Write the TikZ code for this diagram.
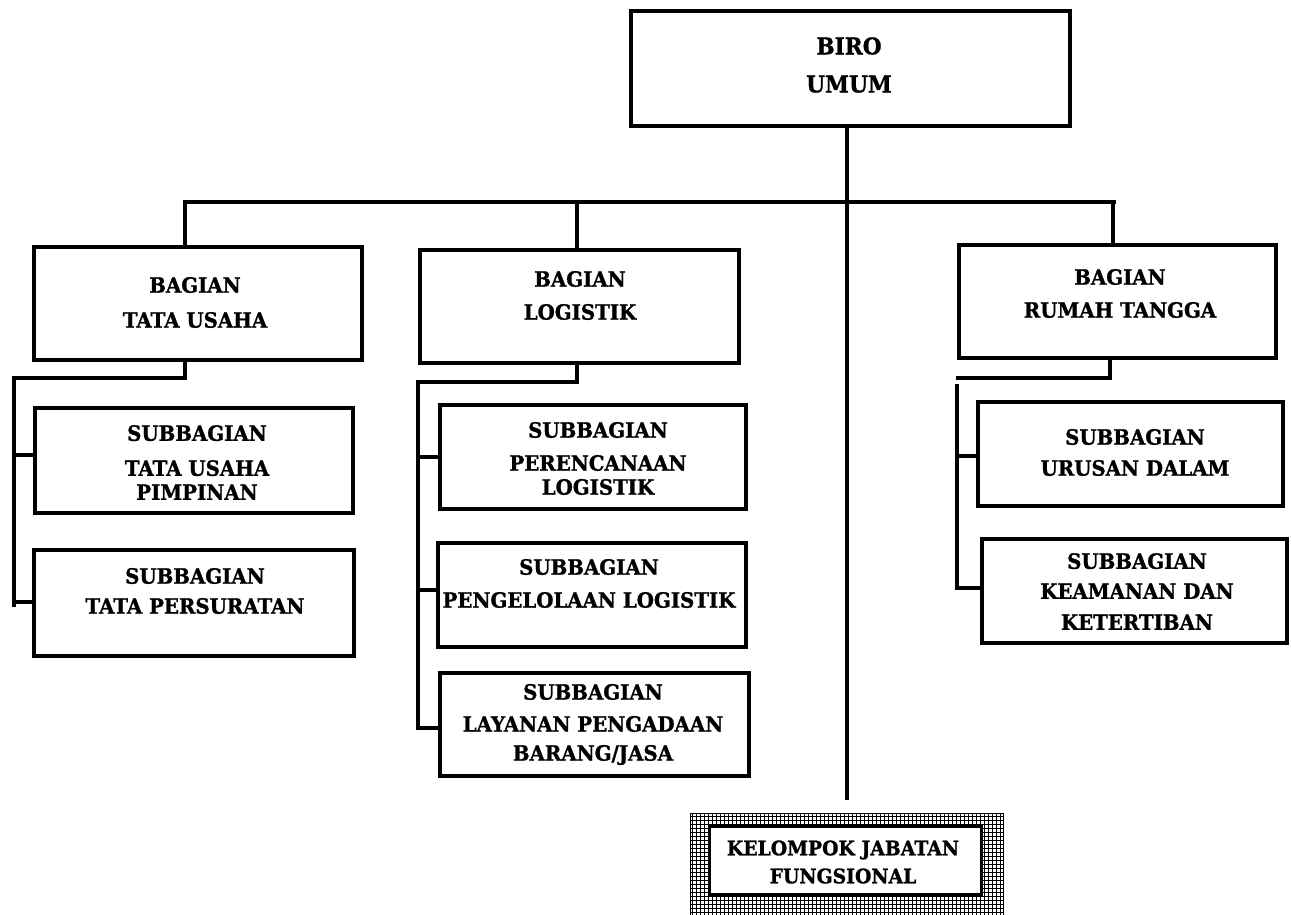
\documentclass[tikz,border=0pt]{standalone}
\usepackage{fontspec}
\setmainfont{DejaVu Serif}
\newfontfamily\orgfont{DejaVu Serif Bold}[FakeBold=1.2,FakeStretch=0.94]
\begin{document}
\begin{tikzpicture}[x=1pt,y=-1pt,
  box/.style={draw, line width=4.3pt, inner sep=0pt},
  wire/.style={line width=3.8pt},
  txt/.style={align=center, inner sep=0pt, font=\fontsize{21}{21}\orgfont},
  bigtxt/.style={align=center, inner sep=0pt, font=\fontsize{23}{23}\orgfont}]
\useasboundingbox[fill=white] (0,0) rectangle (1291,914);

% ---- boxes ----
\node[box, minimum width=439pt, minimum height=115pt] (biro) at (850.5,68.5) {};
\node[box, minimum width=328pt, minimum height=113pt] (tu)   at (198,303.5) {};
\node[box, minimum width=319pt, minimum height=113pt] (log)  at (579.5,306.5) {};
\node[box, minimum width=317pt, minimum height=113pt] (rt)   at (1117.5,301.5) {};
\node[box, minimum width=318pt, minimum height=105pt] (tup)  at (194,460.5) {};
\node[box, minimum width=320pt, minimum height=106pt] (tp)   at (194,603) {};
\node[box, minimum width=306pt, minimum height=104pt] (per)  at (593,457) {};
\node[box, minimum width=308pt, minimum height=104pt] (pen)  at (592,595) {};
\node[box, minimum width=309pt, minimum height=103pt] (lay)  at (594.5,724.5) {};
\node[box, minimum width=305pt, minimum height=104pt] (ud)   at (1130.5,454) {};
\node[box, minimum width=305pt, minimum height=104pt] (kk)   at (1134.5,591) {};

% ---- functional group: cross-hatched frame around a white box ----
\begin{scope}
  \clip (690,916) rectangle (1003,813);
  \draw[line width=0.7pt, step=4pt] (690,917) grid (1004,813);
\end{scope}
\draw[line width=1pt] (690,813) rectangle (1003,916);
\node[box, fill=white, line width=3pt, minimum width=272pt, minimum height=68pt] (kjf) at (845,860) {};

% ---- labels ----
\node[bigtxt] (biroT) at (849,65) {BIRO\\[15pt]UMUM};
\node[txt] (tuT)  at (195,302.5) {BAGIAN\\[14pt]TATA USAHA};
\node[txt] (logT) at (580,295.5) {BAGIAN\\[12pt]LOGISTIK};
\node[txt] (rtT)  at (1120,293.5) {BAGIAN\\[12pt]RUMAH TANGGA};
\node[txt] (tupT) at (197,462.5) {SUBBAGIAN\\[14pt]TATA USAHA\\[3pt]PIMPINAN};
\node[txt] (tpT)  at (195,591) {SUBBAGIAN\\[9pt]TATA PERSURATAN};
\node[txt] (perT) at (598,458.5) {SUBBAGIAN\\[12pt]PERENCANAAN\\[3pt]LOGISTIK};
\node[txt] (penT) at (589,583.5) {SUBBAGIAN\\[12pt]PENGELOLAAN LOGISTIK};
\node[txt] (layT) at (593,724.5) {SUBBAGIAN\\[11pt]LAYANAN PENGADAAN\\[8pt]BARANG/JASA};
\node[txt] (udT)  at (1135,452.5) {SUBBAGIAN\\[10pt]URUSAN DALAM};
\node[txt] (kkT)  at (1137,591.5) {SUBBAGIAN\\[9pt]KEAMANAN DAN\\[10pt]KETERTIBAN};
\node[txt, font=\fontsize{20}{20}\orgfont] (kjfT) at (843,862) {KELOMPOK JABATAN\\[8pt]FUNGSIONAL};

% ---- main trunk and distribution bar ----
\coordinate (trunkEnd) at (847,800);
\coordinate (barL) at (185,202);
\coordinate (barM) at (577,202);
\coordinate (barR) at (1113,202);
\draw[wire] (biro.south -| trunkEnd) -- (trunkEnd);
\draw[wire] ([xshift=-2pt]barL) -- ([xshift=3pt]barR);
\draw[wire] (barL) -- (barL |- tu.north);
\draw[wire] (barM) -- (barM |- log.north);
\draw[wire] (barR) -- (barR |- rt.north);

% ---- Bagian Tata Usaha rail ----
\coordinate (tuK) at (185,378);
\coordinate (tuRail) at (14,378);
\coordinate (tuEnd) at (14,607);
\coordinate (tuB1) at (14,455);
\coordinate (tuB2) at (14,602);
\draw[wire] (tuK |- tu.south) -- (tuK) -- (tuRail) -- (tuEnd);
\draw[wire] (tuB1) -- (tuB1 -| tup.west);
\draw[wire] (tuB2) -- (tuB2 -| tp.west);

% ---- Bagian Logistik rail ----
\coordinate (logK) at (577,382);
\coordinate (logRail) at (418,382);
\coordinate (logEnd) at (418,728);
\coordinate (logB1) at (418,457);
\coordinate (logB2) at (418,590);
\draw[wire] (logK |- log.south) -- (logK) -- (logRail) -- (logEnd) -- (logEnd -| lay.west);
\draw[wire] (logB1) -- (logB1 -| per.west);
\draw[wire] (logB2) -- (logB2 -| pen.west);

% ---- Bagian Rumah Tangga rail ----
\coordinate (rtK) at (1110,378);
\coordinate (rtRail) at (956,378);
\coordinate (rtTop) at (957,384);
\coordinate (rtEnd) at (957,588);
\coordinate (rtB1) at (957,456);
\draw[wire] (rtK |- rt.south) -- (rtK) -- (rtRail);
\draw[wire] (rtTop) -- (rtEnd) -- (rtEnd -| kk.west);
\draw[wire] (rtB1) -- (rtB1 -| ud.west);
\end{tikzpicture}
\end{document}
